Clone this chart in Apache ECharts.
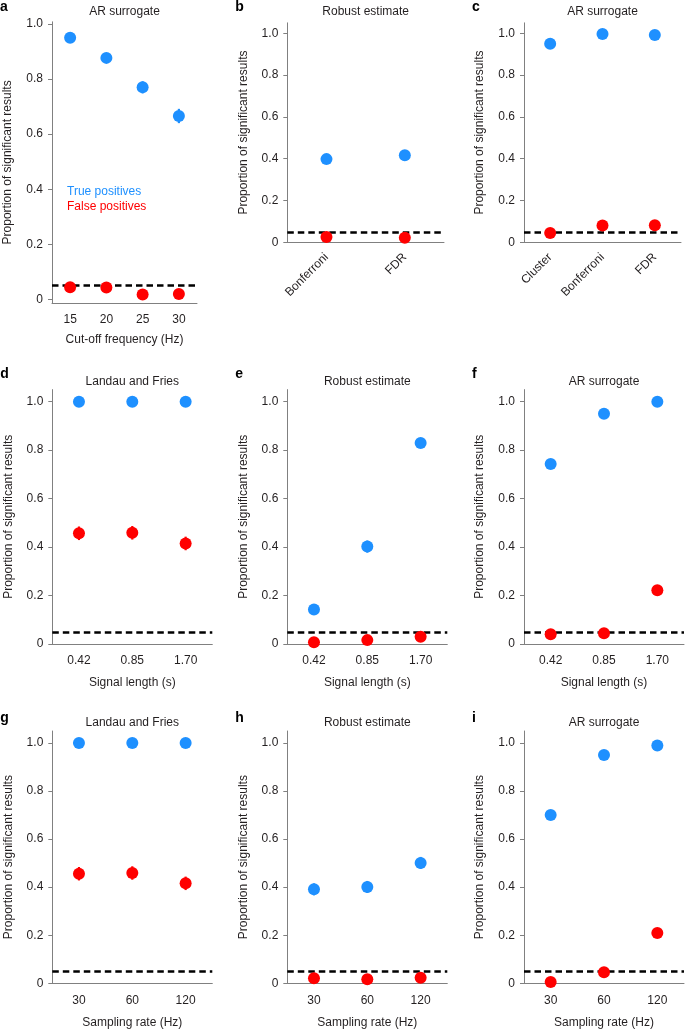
<!DOCTYPE html>
<html>
<head>
<meta charset="utf-8">
<script src="https://cdn.jsdelivr.net/npm/echarts@6/dist/echarts.min.js"></script>
<style>
  html, body { margin: 0; padding: 0; background: #fff; }
  #chart { width: 685px; height: 1030px; }
</style>
</head>
<body>
<div id="chart"></div>
<script>
// categories
var cutoffCats = ['15', '20', '25', '30'];
var correctionCatsB = ['Bonferroni', 'FDR'];
var correctionCatsC = ['Cluster', 'Bonferroni', 'FDR'];
var lengthCats = ['0.42', '0.85', '1.70'];
var rateCats = ['30', '60', '120'];
var yTicks = [0, 0.2, 0.4, 0.6, 0.8, 1.0];
var alphaLevel = 0.05;

// true positives / false positives (proportion), with half error bars
var trueA = [0.950, 0.877, 0.770, 0.666];
var falseA = [0.044, 0.043, 0.018, 0.020];
var trueErrA = [0.008, 0.012, 0.022, 0.026];
var falseErrA = [0.004, 0.004, 0.003, 0.003];

var trueB = [0.398, 0.416];
var falseB = [0.025, 0.022];
var trueErrB = [0.010, 0.010];
var falseErrB = [0.004, 0.004];

var trueC = [0.950, 0.997, 0.992];
var falseC = [0.045, 0.080, 0.082];
var trueErrC = [0.006, 0.002, 0.003];
var falseErrC = [0.004, 0.006, 0.006];

var trueD = [1.0, 1.0, 1.0];
var falseD = [0.457, 0.459, 0.415];
var trueErrD = [0, 0, 0];
var falseErrD = [0.028, 0.028, 0.028];

var trueE = [0.142, 0.402, 0.830];
var falseE = [0.007, 0.016, 0.030];
var trueErrE = [0.010, 0.025, 0.012];
var falseErrE = [0.002, 0.003, 0.004];

var trueF = [0.743, 0.950, 1.0];
var falseF = [0.040, 0.044, 0.222];
var trueErrF = [0.020, 0.010, 0];
var falseErrF = [0.004, 0.004, 0.012];

var trueG = [1.0, 1.0, 1.0];
var falseG = [0.456, 0.459, 0.416];
var trueErrG = [0, 0, 0];
var falseErrG = [0.028, 0.028, 0.028];

var trueH = [0.391, 0.401, 0.501];
var falseH = [0.021, 0.017, 0.023];
var trueErrH = [0.025, 0.025, 0.025];
var falseErrH = [0.003, 0.003, 0.003];

var trueI = [0.700, 0.950, 0.990];
var falseI = [0.005, 0.046, 0.209];
var trueErrI = [0.020, 0.008, 0.004];
var falseErrI = [0.002, 0.004, 0.010];

var BLUE = '#1e90ff';
var RED = '#ff0000';
var AXIS = '#808080';
var TEXT = '#231f20';
var FONT = "'Liberation Sans', Arial, sans-serif";

var panels = [
  { letter: 'a', title: 'AR surrogate', cats: cutoffCats, tp: trueA, fp: falseA, tpe: trueErrA, fpe: falseErrA,
    xName: 'Cut-off frequency (Hz)', left: 52, top: 21.8, width: 145, height: 281.2, ymin: -0.013, ymax: 1.008 },
  { letter: 'b', title: 'Robust estimate', cats: correctionCatsB, tp: trueB, fp: falseB, tpe: trueErrB, fpe: falseErrB,
    xName: '', rotate: 45, left: 287.3, top: 22.85, width: 156.7, height: 219.45, ymin: 0, ymax: 1.05 },
  { letter: 'c', title: 'AR surrogate', cats: correctionCatsC, tp: trueC, fp: falseC, tpe: trueErrC, fpe: falseErrC,
    xName: '', rotate: 45, left: 524, top: 22.85, width: 157, height: 219.45, ymin: 0, ymax: 1.05 },
  { letter: 'd', title: 'Landau and Fries', cats: lengthCats, tp: trueD, fp: falseD, tpe: trueErrD, fpe: falseErrD,
    xName: 'Signal length (s)', left: 52.3, top: 389.6, width: 160, height: 254.4, ymin: 0, ymax: 1.05 },
  { letter: 'e', title: 'Robust estimate', cats: lengthCats, tp: trueE, fp: falseE, tpe: trueErrE, fpe: falseErrE,
    xName: 'Signal length (s)', left: 287.3, top: 389.6, width: 160, height: 254.4, ymin: 0, ymax: 1.05 },
  { letter: 'f', title: 'AR surrogate', cats: lengthCats, tp: trueF, fp: falseF, tpe: trueErrF, fpe: falseErrF,
    xName: 'Signal length (s)', left: 524, top: 389.6, width: 160, height: 254.4, ymin: 0, ymax: 1.05 },
  { letter: 'g', title: 'Landau and Fries', cats: rateCats, tp: trueG, fp: falseG, tpe: trueErrG, fpe: falseErrG,
    xName: 'Sampling rate (Hz)', left: 52.3, top: 731, width: 160, height: 252.3, ymin: 0, ymax: 1.05 },
  { letter: 'h', title: 'Robust estimate', cats: rateCats, tp: trueH, fp: falseH, tpe: trueErrH, fpe: falseErrH,
    xName: 'Sampling rate (Hz)', left: 287.3, top: 731, width: 160, height: 252.3, ymin: 0, ymax: 1.05 },
  { letter: 'i', title: 'AR surrogate', cats: rateCats, tp: trueI, fp: falseI, tpe: trueErrI, fpe: falseErrI,
    xName: 'Sampling rate (Hz)', left: 524, top: 731, width: 160, height: 252.3, ymin: 0, ymax: 1.05 }
];

function errorBars(color) {
  return function (params, api) {
    var i = api.value(0), v = api.value(1), e = api.value(2);
    var lo = api.coord([i, v - e]), hi = api.coord([i, v + e]);
    return {
      type: 'line',
      shape: { x1: lo[0], y1: lo[1], x2: hi[0], y2: hi[1] },
      style: { stroke: color, lineWidth: 2.2 }
    };
  };
}

var grid = [], xAxis = [], yAxis = [], series = [], graphic = [];

panels.forEach(function (p, k) {
  grid.push({ left: p.left, top: p.top, width: p.width, height: p.height });

  xAxis.push({
    type: 'category', gridIndex: k, data: p.cats, boundaryGap: true,
    name: p.xName, nameLocation: 'middle', nameGap: k === 0 ? 31 : 33,
    nameTextStyle: { fontSize: 12, color: TEXT, fontFamily: FONT },
    axisLine: { onZero: false, lineStyle: { color: AXIS, width: 1 } },
    axisTick: { alignWithLabel: true, length: 4, lineStyle: { color: AXIS } },
    axisLabel: { fontSize: 12, color: TEXT, fontFamily: FONT, margin: p.rotate ? 13 : 11, rotate: p.rotate || 0, interval: 0 },
    splitLine: { show: false }
  });

  yAxis.push({
    type: 'value', gridIndex: k, min: p.ymin, max: p.ymax,
    name: 'Proportion of significant results', nameLocation: 'middle', nameGap: 38,
    nameTextStyle: { fontSize: 12, color: TEXT, fontFamily: FONT },
    axisLine: { show: true, lineStyle: { color: AXIS, width: 1 } },
    axisTick: { show: true, length: 4, customValues: yTicks, lineStyle: { color: AXIS } },
    axisLabel: {
      fontSize: 12, color: TEXT, fontFamily: FONT, margin: 9, customValues: yTicks,
      formatter: function (v) { return v === 0 ? '0' : v.toFixed(1); }
    },
    splitLine: { show: false }
  });

  series.push({
    type: 'custom', xAxisIndex: k, yAxisIndex: k, z: 1,
    renderItem: errorBars(BLUE), encode: { x: 0, y: 1 },
    data: p.tp.map(function (v, i) { return [i, v, p.tpe[i]]; }),
    silent: true
  });
  series.push({
    type: 'custom', xAxisIndex: k, yAxisIndex: k, z: 1,
    renderItem: errorBars(RED), encode: { x: 0, y: 1 },
    data: p.fp.map(function (v, i) { return [i, v, p.fpe[i]]; }),
    silent: true,
    markLine: {
      silent: true, symbol: 'none', z: 2,
      label: { show: false },
      lineStyle: { color: '#000', width: 2.5, type: [6.5, 4] },
      data: [{ yAxis: alphaLevel }]
    }
  });
  series.push({
    name: 'True positives', type: 'scatter', xAxisIndex: k, yAxisIndex: k, z: 3,
    symbol: 'circle', symbolSize: 12, itemStyle: { color: BLUE, opacity: 1 },
    data: p.tp
  });
  series.push({
    name: 'False positives', type: 'scatter', xAxisIndex: k, yAxisIndex: k, z: 3,
    symbol: 'circle', symbolSize: 12, itemStyle: { color: RED, opacity: 1 },
    data: p.fp
  });

  var titleY = k < 3 ? 12 : (k < 6 ? 382 : 723);
  var letterY = k < 3 ? 7 : (k < 6 ? 374 : 718);
  graphic.push({
    type: 'text', x: p.left + p.width / 2, y: titleY,
    style: { text: p.title, fontSize: 12, fill: TEXT, fontFamily: FONT, textAlign: 'center', textVerticalAlign: 'middle' }
  });
  graphic.push({
    type: 'text', x: p.left - 52, y: letterY,
    style: { text: p.letter, fontSize: 14, fontWeight: 'bold', fill: '#000', fontFamily: FONT, textAlign: 'left', textVerticalAlign: 'middle' }
  });
});

graphic.push({
  type: 'text', x: 67, y: 192,
  style: { text: 'True positives', fontSize: 12, fill: BLUE, fontFamily: FONT, textAlign: 'left', textVerticalAlign: 'middle' }
});
graphic.push({
  type: 'text', x: 67, y: 207,
  style: { text: 'False positives', fontSize: 12, fill: RED, fontFamily: FONT, textAlign: 'left', textVerticalAlign: 'middle' }
});

var chart = echarts.init(document.getElementById('chart'), null, { renderer: 'canvas' });
chart.setOption({
  animation: false,
  backgroundColor: '#fff',
  textStyle: { fontFamily: FONT },
  grid: grid,
  xAxis: xAxis,
  yAxis: yAxis,
  series: series,
  graphic: graphic
});
</script>
</body>
</html>
